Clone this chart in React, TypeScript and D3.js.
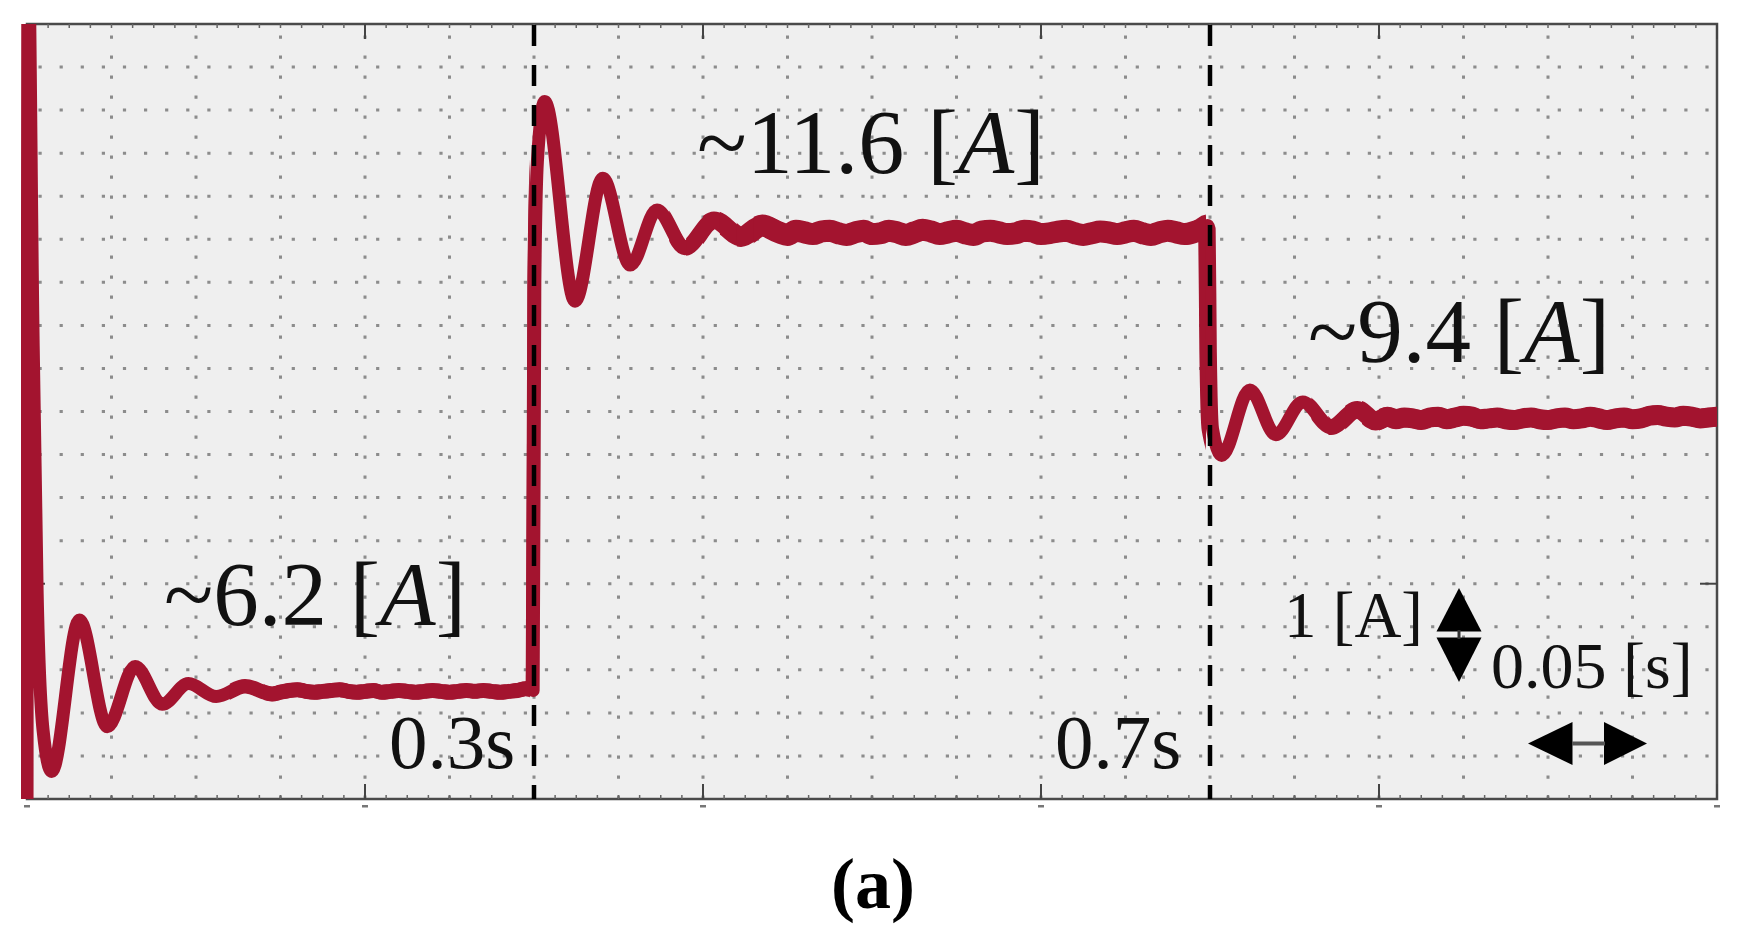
import React from 'react';
import * as d3 from 'd3';

// ---- data (time [s], current [A]) ----
const startup: [number, number][] = [
  [0, 4.2], [0.0006, 15.0], [0.0035, 10.5], [0.006, 7.4], [0.0095, 5.8],
  [0.0146, 5.32], [0.031, 7.08], [0.0475, 5.84], [0.064, 6.54], [0.08, 6.1],
  [0.0955, 6.34], [0.112, 6.19],
];
const plateauLow: [number, number][] = [
  [0.129, 6.31], [0.145, 6.22], [0.15, 6.24], [0.155, 6.26], [0.16, 6.27], [0.165, 6.25],
  [0.17, 6.24], [0.175, 6.25], [0.18, 6.26], [0.185, 6.27], [0.19, 6.25], [0.195, 6.24],
  [0.2, 6.25], [0.205, 6.26], [0.21, 6.24], [0.215, 6.25], [0.22, 6.26], [0.225, 6.25],
  [0.23, 6.24], [0.235, 6.25], [0.24, 6.26], [0.245, 6.25], [0.25, 6.24], [0.255, 6.25],
  [0.26, 6.26], [0.265, 6.25], [0.27, 6.26], [0.275, 6.25], [0.28, 6.24], [0.285, 6.25],
  [0.29, 6.26], [0.295, 6.28], [0.2985, 6.27],
];
const stepUp: [number, number][] = [
  [0.2995, 6.26], [0.3005, 11.0], [0.302, 12.4], [0.3063, 13.1], [0.3243, 10.78],
  [0.3407, 12.21], [0.357, 11.2],
];
const plateauHigh: [number, number][] = [
  [0.3728, 11.84], [0.3893, 11.4], [0.4065, 11.72], [0.4225, 11.53], [0.435, 11.66],
  [0.445, 11.58], [0.45, 11.55],
  [0.455, 11.6], [0.46, 11.58], [0.465, 11.56], [0.47, 11.59], [0.475, 11.6], [0.48, 11.57],
  [0.485, 11.55], [0.49, 11.58], [0.495, 11.6], [0.5, 11.56], [0.505, 11.57], [0.51, 11.6],
  [0.515, 11.58], [0.52, 11.55], [0.525, 11.58], [0.53, 11.61], [0.535, 11.59], [0.54, 11.56],
  [0.545, 11.58], [0.55, 11.6], [0.555, 11.57], [0.56, 11.55], [0.565, 11.59], [0.57, 11.6],
  [0.575, 11.58], [0.58, 11.56], [0.585, 11.57], [0.59, 11.6], [0.595, 11.59], [0.6, 11.56],
  [0.605, 11.57], [0.61, 11.59], [0.615, 11.6], [0.62, 11.57], [0.625, 11.55], [0.63, 11.57],
  [0.635, 11.59], [0.64, 11.58], [0.645, 11.56], [0.65, 11.58], [0.655, 11.6], [0.66, 11.57],
  [0.665, 11.55], [0.67, 11.58], [0.675, 11.6], [0.68, 11.58], [0.685, 11.56], [0.69, 11.58],
  [0.695, 11.62], [0.6985, 11.66],
];
const stepDown: [number, number][] = [
  [0.6995, 11.62], [0.7002, 10.2], [0.7015, 9.3], [0.7069, 8.99], [0.7236, 9.75],
  [0.739, 9.23],
];
const plateauMid: [number, number][] = [
  [0.7548, 9.61], [0.7716, 9.32], [0.7872, 9.52], [0.798, 9.39], [0.805, 9.44], [0.81, 9.41],
  [0.815, 9.43],
  [0.82, 9.42], [0.825, 9.4], [0.83, 9.43], [0.835, 9.44], [0.84, 9.41], [0.845, 9.43],
  [0.85, 9.45], [0.855, 9.44], [0.86, 9.41], [0.865, 9.42], [0.87, 9.43], [0.875, 9.41],
  [0.88, 9.4], [0.885, 9.42], [0.89, 9.43], [0.895, 9.41], [0.9, 9.4], [0.905, 9.42],
  [0.91, 9.43], [0.915, 9.41], [0.92, 9.42], [0.925, 9.44], [0.93, 9.42], [0.935, 9.4],
  [0.94, 9.42], [0.945, 9.43], [0.95, 9.41], [0.955, 9.42], [0.96, 9.45], [0.965, 9.46],
  [0.97, 9.44], [0.975, 9.43], [0.98, 9.45], [0.985, 9.44], [0.99, 9.42], [0.995, 9.43],
  [1.0, 9.44],
];

// noisy steady-state windows: [start of widening, end of widening, end, band width px]
const noiseBands: [number, number, number, number][] = [
  [0.1, 0.14, 0.2975, 15],
  [0.37, 0.43, 0.6975, 22],
  [0.75, 0.8, 1.0, 20],
];

const eventTimes = [0.3, 0.7];
const majorTimeTicks = [0, 0.2, 0.4, 0.6, 0.8, 1.0];
const majorCurrentTicks = [7.5];
const timeDomain: [number, number] = [0, 1];
const currentDomain: [number, number] = [5, 14];
const timeDiv = 0.05;
const currentDiv = 0.5;

const W = 1741, H = 946;
const L = 27, R = 1717, T = 24, B = 799;
const BASE_W = 13;

export default function App() {
  const x = d3.scaleLinear().domain(timeDomain).range([L, R]);
  const y = d3.scaleLinear().domain(currentDomain).range([B, T]);
  const line = d3.line<[number, number]>().x(d => x(d[0])).y(d => y(d[1])).curve(d3.curveMonotoneX);
  const series = [...startup, ...plateauLow, ...stepUp, ...plateauHigh, ...stepDown, ...plateauMid];
  const traceD = line(series) || '';

  // stacked, progressively wider strokes of the same curve over the steady-state windows
  const layers: { id: string; x0: number; x1: number; w: number }[] = [];
  noiseBands.forEach(([t0, t1, t2, w], bi) => {
    const n = Math.max(1, Math.ceil((w - BASE_W) / 1.5));
    for (let k = 1; k <= n; k++) {
      const tk = t0 + (t1 - t0) * (k / n);
      layers.push({ id: `band${bi}_${k}`, x0: x(tk), x1: x(t2), w: Math.min(w, BASE_W + 1.5 * k) });
    }
  });

  const vGrid = d3.range(1, Math.round((timeDomain[1] - timeDomain[0]) / timeDiv)).map(k => timeDomain[0] + k * timeDiv);
  const hGrid = d3.range(1, Math.round((currentDomain[1] - currentDomain[0]) / currentDiv)).map(k => currentDomain[0] + k * currentDiv);
  const minorX = d3.range(0, Math.round((timeDomain[1] - timeDomain[0]) / (timeDiv / 4)) + 1).map(k => k * timeDiv / 4);

  const red = '#a3142f';
  const font = "'Liberation Serif', 'Times New Roman', serif";
  const dotColor = '#8c8c8c';

  return (
    <svg width={W} height={H} style={{ position: 'absolute', left: 0, top: 0, background: '#fff' }}>
      <defs>
        <clipPath id="plotclip">
          <rect x={L - 6} y={T} width={R - L + 6} height={B - T} />
        </clipPath>
        {layers.map(l => (
          <clipPath key={l.id} id={l.id}>
            <rect x={l.x0} y={T} width={l.x1 - l.x0} height={B - T} />
          </clipPath>
        ))}
      </defs>
      <rect x={L} y={T} width={R - L} height={B - T} fill="#efefef" />
      {/* dotted grid */}
      {hGrid.map(v => (
        <line key={'h' + v} x1={L} x2={R} y1={y(v)} y2={y(v)} stroke={dotColor} strokeWidth={3}
          strokeDasharray="3.2 17.9" strokeDashoffset={-11.5} />
      ))}
      {vGrid.map(t => (
        <line key={'v' + t} x1={x(t)} x2={x(t)} y1={T} y2={B} stroke={dotColor} strokeWidth={3}
          strokeDasharray="3.2 16.8" strokeDashoffset={-11.5} />
      ))}
      {/* frame */}
      <rect x={L} y={T} width={R - L} height={B - T} fill="none" stroke="#4a4a4a" strokeWidth={2.5} />
      {minorX.map(t => (
        <g key={'m' + t}>
          <line x1={x(t)} x2={x(t)} y1={T} y2={T + 4} stroke="#666" strokeWidth={1.5} />
          <line x1={x(t)} x2={x(t)} y1={B} y2={B - 4} stroke="#666" strokeWidth={1.5} />
        </g>
      ))}
      {majorTimeTicks.map(t => (
        <g key={'M' + t}>
          <line x1={x(t)} x2={x(t)} y1={T} y2={T + 15} stroke="#444" strokeWidth={2} />
          <line x1={x(t)} x2={x(t)} y1={B} y2={B - 15} stroke="#444" strokeWidth={2} />
          <rect x={x(t) - 3} y={B + 6} width={6} height={2.5} fill="#777" />
        </g>
      ))}
      {majorCurrentTicks.map(v => (
        <g key={'Y' + v}>
          <line x1={L - 5} x2={L + 18} y1={y(v)} y2={y(v)} stroke="#444" strokeWidth={2} />
          <line x1={R} x2={R - 17} y1={y(v)} y2={y(v)} stroke="#444" strokeWidth={2} />
        </g>
      ))}
      {/* trace */}
      <g clipPath="url(#plotclip)" fill="none" stroke={red} strokeLinejoin="round" strokeLinecap="round">
        <path d={traceD} strokeWidth={BASE_W} />
        {layers.map(l => (
          <g key={'g' + l.id} clipPath={`url(#${l.id})`}>
            <path d={traceD} strokeWidth={l.w} />
          </g>
        ))}
      </g>
      {/* event markers */}
      {eventTimes.map(t => (
        <line key={'e' + t} x1={x(t)} x2={x(t)} y1={T + 1} y2={B} stroke="#000" strokeWidth={4.5}
          strokeDasharray="21 19" />
      ))}
      {/* annotations */}
      <g fontFamily={font} fill="#111">
        <text x={164} y={625} fontSize={91}>~6.2 [<tspan fontStyle="italic">A</tspan>]</text>
        <text x={697} y={173} fontSize={92}>~11.6 [<tspan fontStyle="italic">A</tspan>]</text>
        <text x={1308} y={362} fontSize={91}>~9.4 [<tspan fontStyle="italic">A</tspan>]</text>
        <text x={389} y={768} fontSize={77}>0.3s</text>
        <text x={1055} y={768} fontSize={77}>0.7s</text>
        <text x={1284} y={637} fontSize={65}>1 [A]</text>
        <text x={1491} y={688} fontSize={66}>0.05 [s]</text>
      </g>
      {/* scale arrows */}
      <g fill="#000">
        <path d="M1459,588 L1481.5,631.5 L1436.5,631.5 Z" />
        <path d="M1459,682 L1481.5,637.5 L1436.5,637.5 Z" />
        <line x1={1459} x2={1459} y1={630} y2={639} stroke="#333" strokeWidth={3} />
        <path d="M1528,743.5 L1572.5,722 L1572.5,765 Z" />
        <path d="M1647,743.5 L1604,722 L1604,765 Z" />
        <line x1={1572} x2={1605} y1={743.5} y2={743.5} stroke="#555" strokeWidth={4} />
      </g>
      <text x={873} y={908} fontFamily={font} fontWeight="bold" fontSize={72} textAnchor="middle" fill="#000">(a)</text>
    </svg>
  );
}
